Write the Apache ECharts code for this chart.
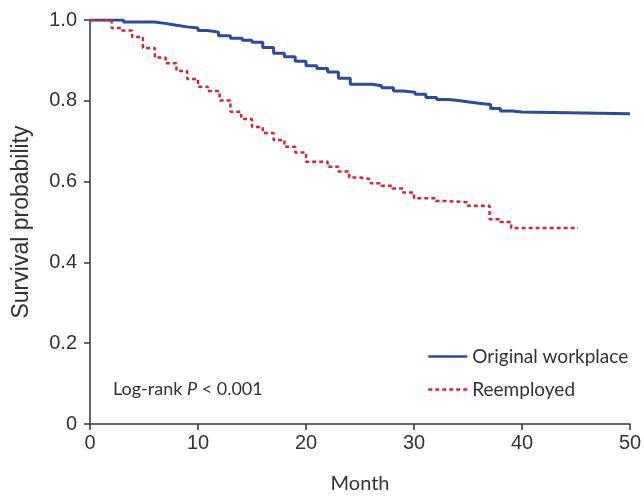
<!DOCTYPE html>
<html>
<head>
<meta charset="utf-8">
<script src="https://cdn.jsdelivr.net/npm/echarts@6/dist/echarts.min.js"></script>
<style>html,body{margin:0;padding:0;background:#fff}#c{width:644px;height:496px}</style>
</head>
<body>
<div id="c"></div>
<script>
const seriesNames = ['Original workplace', 'Reemployed'];
const origTimes = [0, 3.1, 6, 7.1, 8, 9, 10, 10.9, 11.9, 13, 14.1, 15, 16, 17, 18, 19, 20, 21, 22, 23, 24.1, 26.1, 27, 28.1, 29, 30.1, 31.1, 32.1, 33.2, 34.1, 35.1, 36, 37.1, 38, 39.1, 40, 50];
const origSurv  = [1.0, 0.995, 0.991, 0.987, 0.983, 0.98, 0.974, 0.97, 0.961, 0.955, 0.95, 0.945, 0.932, 0.918, 0.909, 0.898, 0.887, 0.88, 0.871, 0.856, 0.841, 0.837, 0.832, 0.824, 0.821, 0.816, 0.808, 0.803, 0.801, 0.797, 0.794, 0.791, 0.781, 0.775, 0.772, 0.768, 0.768];
const reempTimes = [0, 2, 2.9, 3.9, 4.9, 6, 7, 8, 9, 10, 10.9, 12, 13, 14, 15, 16, 17, 18, 19, 20, 22, 23, 24, 25, 26, 27, 28, 29, 30, 32, 33, 35, 37, 38, 39, 45.2];
const reempSurv  = [1.0, 0.98, 0.974, 0.958, 0.931, 0.907, 0.893, 0.874, 0.854, 0.835, 0.824, 0.801, 0.773, 0.755, 0.735, 0.72, 0.703, 0.686, 0.672, 0.649, 0.637, 0.625, 0.61, 0.606, 0.596, 0.59, 0.583, 0.573, 0.559, 0.552, 0.549, 0.54, 0.507, 0.5, 0.485, 0.485];
const xTicks = [0, 10, 20, 30, 40, 50];
const yTicks = [0, 0.2, 0.4, 0.6, 0.8, 1.0];

const pair = (t, s) => t.map((v, i) => [v, s[i]]);
const chart = echarts.init(document.getElementById('c'), null, {renderer: 'canvas'});
const axisCol = '#333';
const tickFont = '"Liberation Sans", Arial, sans-serif';
const textFont = 'Lato, "Open Sans", sans-serif';
chart.setOption({
  animation: false,
  backgroundColor: '#fff',
  grid: {left: 90, right: 14, top: 20, bottom: 72, containLabel: false, outerBoundsMode: 'none'},
  xAxis: {
    type: 'value', min: xTicks[0], max: xTicks[xTicks.length - 1], interval: 10,
    name: 'Month', nameLocation: 'middle', nameGap: 50,
    nameTextStyle: {fontFamily: textFont, fontSize: 20, color: axisCol},
    axisLine: {show: true, onZero: false, lineStyle: {color: axisCol, width: 1.5}},
    axisTick: {show: true, length: 6, lineStyle: {color: axisCol, width: 1.5}},
    axisLabel: {fontFamily: tickFont, fontSize: 20, color: axisCol, margin: 9},
    splitLine: {show: false}
  },
  yAxis: {
    type: 'value', min: yTicks[0], max: yTicks[yTicks.length - 1], interval: 0.2,
    name: 'Survival probability', nameLocation: 'middle', nameGap: 57,
    nameTextStyle: {fontFamily: tickFont, fontSize: 23, color: axisCol},
    axisLine: {show: true, onZero: false, lineStyle: {color: axisCol, width: 1.5}},
    axisTick: {show: true, length: 6, lineStyle: {color: axisCol, width: 1.5}},
    axisLabel: {fontFamily: tickFont, fontSize: 20, color: axisCol, margin: 13,
      formatter: v => v === 0 ? '0' : v.toFixed(1)},
    splitLine: {show: false}
  },
  legend: {
    orient: 'vertical', left: 422, top: 340, itemGap: 10, padding: 5,
    itemWidth: 39, itemHeight: 14,
    itemStyle: {opacity: 0},
    lineStyle: {width: 2.5},
    textStyle: {fontFamily: textFont, fontSize: 19, color: axisCol, lineHeight: 23},
    data: seriesNames
  },
  graphic: [{
    type: 'text', left: 113, top: 380,
    style: {
      rich: {
        a: {fontFamily: textFont, fontSize: 18, fill: axisCol},
        i: {fontFamily: textFont, fontSize: 18, fill: axisCol, fontStyle: 'italic'}
      },
      text: '{a|Log-rank }{i|P}{a| < 0.001}'
    }
  }],
  series: [{
    name: seriesNames[0], type: 'line', step: 'end', showSymbol: false, symbol: 'none',
    data: pair(origTimes, origSurv),
    lineStyle: {color: '#2b4b9e', width: 3},
    itemStyle: {color: '#2b4b9e'}
  }, {
    name: seriesNames[1], type: 'line', step: 'end', showSymbol: false, symbol: 'none',
    data: pair(reempTimes, reempSurv),
    lineStyle: {color: '#d8252f', width: 2.5, type: [4, 3]},
    itemStyle: {color: '#d8252f'}
  }]
});
</script>
</body>
</html>
